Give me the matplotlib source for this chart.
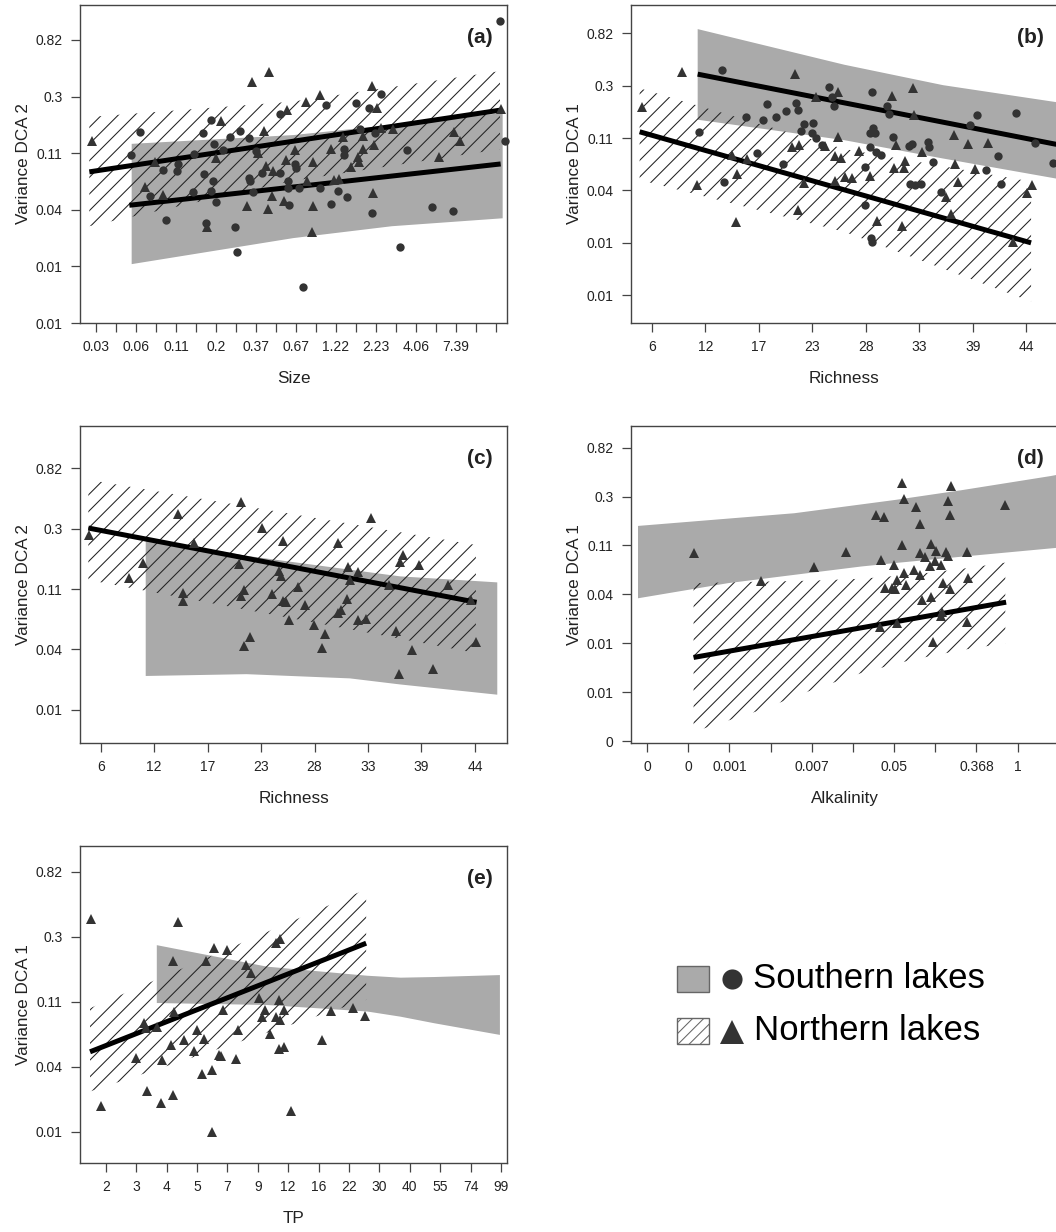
import numpy as np
import matplotlib
matplotlib.use("Agg")
import matplotlib.pyplot as plt
from matplotlib.patches import Rectangle

plt.rcParams['font.family'] = ['Liberation Sans', 'DejaVu Sans']
plt.rcParams['hatch.linewidth'] = 0.75

# ---------------------------------------------------------------
# Data (all values in natural-log units: ln(variance), ln(predictor))
# ---------------------------------------------------------------
# Panel (a): Variance DCA 2 vs ln(Size)
a_south_x = [-2.735, -2.875, -1.68, -1.79, -1.63, -1.245, -1.39, -1.10, -1.50, -1.925,
             -2.175, -2.39, -2.18, -1.775, -1.65, -1.68, -1.94, -2.595, -1.605, -2.35,
             -1.745, -1.31, -1.29, -1.10, -1.09, -0.915, -1.04, -0.64, -0.995, -0.64,
             -0.515, -0.52, -0.50,
             2.665, 0.875, 0.05, 0.505, 0.69, 0.555, 0.315, 0.315, 0.79, 1.265,
             -0.40, -0.41, -0.35, -0.04, 0.23, 0.36, 0.12, 0.74, 1.64, 1.96,
             1.155, -0.30, 2.73]
a_south_y = [-1.83, -2.24, -1.62, -1.84, -2.03, -1.81, -1.92, -1.94, -2.15, -2.22,
             -2.39, -2.49, -2.51, -2.57, -2.70, -2.86, -2.88, -2.96, -3.07, -3.38,
             -3.44, -3.51, -3.94, -2.63, -2.70, -2.55, -2.89, -1.50, -2.17, -2.55,
             -2.70, -2.82, -3.11,
             0.14, -1.16, -1.35, -1.32, -1.41, -1.77, -2.12, -2.23, -1.85, -2.15,
             -2.46, -2.39, -2.82, -2.82, -2.86, -2.97, -3.10, -3.26, -3.15, -3.23,
             -3.86, -4.56, -1.99]
a_north_x = [-3.465, -1.06, -0.805, -1.53, -0.875, -0.54, -2.52, -1.60, -0.965, -2.66,
             -2.395, -1.74, -1.14, -0.825, -0.765, -0.85, -0.74, -0.58, -0.55,
             -0.25, -0.04, 0.745, 0.81, -0.42, -0.145, 0.31, 0.13, 0.60, 0.87,
             1.055, 0.775, 0.61, 0.525, 0.55, 0.43, 1.965, 2.055, 1.74, 2.67,
             -0.235, 0.165, 0.25, 0.755, -0.14, -0.16]
a_north_y = [-1.99, -0.95, -0.76, -1.63, -1.81, -1.43, -2.35, -2.29, -2.20, -2.79,
             -2.93, -3.51, -3.14, -3.18, -2.96, -2.42, -2.51, -3.05, -2.32,
             -1.30, -1.18, -1.01, -1.41, -2.15, -2.36, -1.92, -2.13, -1.89, -1.75,
             -1.78, -2.05, -2.12, -2.26, -2.36, -2.45, -1.82, -1.98, -2.26, -1.42,
             -2.70, -2.68, -2.66, -2.91, -3.14, -3.59]
a_north_fit_x = [-3.50, 2.66]
a_north_fit_y = [-2.53, -1.44]
a_south_fit_x = [-2.90, 2.67]
a_south_fit_y = [-3.12, -2.39]
a_north_band_x = [-3.50, -0.46, 2.66]
a_north_band_hi = [-1.56, -1.29, -0.75]
a_north_band_lo = [-3.49, -2.69, -2.13]
a_south_band_x = [-2.865, -0.44, 1.04, 2.70]
a_south_band_hi = [-2.035, -1.88, -1.70, -1.49]
a_south_band_lo = [-4.16, -3.70, -3.49, -3.35]
a_xticklabels = ['0.03', '', '0.06', '', '0.11', '', '0.2', '', '0.37', '', '0.67', '',
                 '1.22', '', '2.23', '', '4.06', '', '7.39', '', '']

# Panel (b): Variance DCA 1 vs Richness
b_south_x = [13.17, 10.84, 17.83, 15.70, 17.45, 18.76, 19.79, 20.85, 20.99, 21.67,
             22.53, 21.33, 22.43, 22.91, 23.46, 16.80, 19.44, 13.37, 24.21, 24.55,
             24.76,
             28.63, 30.21, 30.38, 39.44, 43.45, 38.75, 45.37, 41.60, 47.25, 28.74,
             28.39, 28.91, 30.79, 32.44, 32.71, 34.40, 34.50, 28.46, 29.08, 29.59,
             27.88, 34.91, 40.33, 32.51, 33.09, 33.67, 35.70, 41.87, 27.88, 28.56,
             28.67]
b_south_y = [-0.906, -2.09, -1.55, -1.80, -1.86, -1.80, -1.69, -1.54, -1.67, -1.93,
             -1.92, -2.06, -2.11, -2.20, -2.33, -2.48, -2.70, -3.04, -1.22, -1.41,
             -1.58,
             -1.33, -1.58, -1.75, -1.76, -1.73, -1.95, -2.30, -2.55, -2.68, -2.00,
             -2.11, -2.11, -2.18, -2.36, -2.32, -2.28, -2.38, -2.38, -2.46, -2.52,
             -2.76, -2.65, -2.81, -3.08, -3.09, -3.08, -3.22, -3.08, -3.48, -4.11,
             -4.19]
b_north_x = [9.05, 4.97, 20.68, 22.91, 25.17, 25.17, 20.44, 21.16, 14.20, 15.77,
             14.74, 10.60, 21.67, 20.99, 14.68, 24.83, 25.44, 24.83, 23.80,
             32.82, 30.73, 32.95, 37.07, 38.54, 40.60, 31.07, 33.81, 27.30, 32.06,
             30.86, 31.89, 37.14, 39.23, 28.39, 25.82, 26.58, 37.48, 36.28, 36.80,
             29.18, 31.75, 45.13, 44.61, 43.14]
b_north_y = [-0.93, -1.60, -0.98, -1.41, -1.33, -2.18, -2.38, -2.33, -2.52, -2.60,
             -2.88, -3.09, -3.06, -3.57, -3.81, -3.01, -2.59, -2.55, -2.36,
             -1.24, -1.39, -1.76, -2.15, -2.31, -2.30, -2.33, -2.47, -2.44, -2.63,
             -2.78, -2.78, -2.70, -2.79, -2.92, -2.94, -2.97, -3.03, -3.32, -3.65,
             -3.78, -3.88, -3.09, -3.25, -4.19]
b_north_fit_x = [4.73, 45.0]
b_north_fit_y = [-2.08, -4.20]
b_south_fit_x = [10.7, 47.6]
b_south_fit_y = [-0.98, -2.32]
b_north_band_x = [4.73, 25.8, 45.0]
b_north_band_hi = [-1.25, -2.41, -3.03]
b_north_band_lo = [-3.00, -3.99, -5.32]
b_south_band_x = [10.7, 25.78, 35.94, 47.8]
b_south_band_hi = [-0.12, -0.80, -1.19, -1.52]
b_south_band_lo = [-1.85, -2.24, -2.59, -2.98]
rich_xticklabels = ['6', '12', '17', '23', '28', '33', '39', '44']

# Panel (c): Variance DCA 2 vs Richness (northern lakes)
c_north_x = [4.83, 8.88, 10.39, 13.95, 14.50, 14.43, 15.60, 20.47, 20.19, 22.59,
             20.78, 20.47, 20.74, 21.39, 23.59, 24.38, 24.55, 24.79, 24.72, 25.06,
             25.40, 26.26, 27.01, 27.98, 29.07, 28.80, 30.38, 31.47, 31.64, 31.30,
             30.44, 30.68, 32.43, 32.50, 33.25, 33.80, 35.69, 36.37, 36.79, 37.06,
             38.70, 36.65, 38.05, 40.21, 41.69, 44.05, 44.60]
c_north_y = [-1.31, -2.01, -1.77, -0.96, -2.27, -2.39, -1.44, -0.76, -1.78, -1.19,
             -2.21, -2.32, -3.15, -2.99, -2.29, -1.90, -1.98, -1.41, -2.39, -2.41,
             -2.72, -2.16, -2.46, -2.80, -2.95, -3.17, -1.43, -1.83, -2.05, -2.36,
             -2.59, -2.54, -1.91, -2.71, -2.70, -1.02, -2.13, -2.90, -1.75, -1.63,
             -1.81, -3.60, -3.21, -3.52, -2.13, -2.38, -3.08]
c_north_fit_x = [4.73, 44.67]
c_north_fit_y = [-1.19, -2.42]
c_north_band_x = [4.73, 44.6]
c_north_band_hi = [-0.39, -1.47]
c_north_band_lo = [-2.05, -3.26]
c_south_band_x = [10.63, 21.0, 31.64, 36.79, 46.8]
c_south_band_hi = [-1.36, -1.65, -1.88, -1.99, -2.09]
c_south_band_lo = [-3.64, -3.61, -3.68, -3.78, -3.95]

# Panel (d): Variance DCA 1 vs ln(Alkalinity) (northern lakes)
d_north_x = [-7.87, -6.24, -4.95, -4.17, -3.45, -3.25, -3.31, -2.81, -2.76, -2.81,
             -3.00, -2.46, -2.36, -1.61, -1.69, -1.65, -0.30, -2.10, -2.36, -2.25,
             -1.98, -1.74, -1.68, -1.23, -2.00, -2.14, -1.86, -2.52, -2.36, -2.75,
             -2.93, -2.72, -3.23, -3.05, -2.99, -1.21, -1.82, -1.65, -2.33, -2.10,
             -1.83, -1.86, -3.35, -2.93, -1.23, -2.06]
d_north_y = [-2.36, -2.93, -2.64, -2.33, -1.58, -1.62, -2.50, -0.93, -1.24, -2.18,
             -2.60, -1.41, -1.77, -0.98, -1.30, -1.58, -1.38, -2.16, -2.36, -2.43,
             -2.31, -2.33, -2.42, -2.34, -2.52, -2.61, -2.60, -2.70, -2.80, -2.77,
             -2.91, -3.01, -3.06, -3.06, -3.10, -2.87, -2.96, -3.09, -3.32, -3.25,
             -3.57, -3.64, -3.87, -3.79, -3.76, -4.18]
d_north_fit_x = [-7.87, -0.28]
d_north_fit_y = [-4.49, -3.36]
d_north_band_x = [-7.87, -6.22, -5.01, -3.80, -2.58, -1.37, -0.30]
d_north_band_hi = [-2.97, -2.94, -2.92, -2.88, -2.80, -2.68, -2.55]
d_north_band_lo = [-6.01, -5.56, -5.16, -4.81, -4.54, -4.34, -4.20]
d_south_band_x = [-9.22, -7.03, -5.42, -3.80, -2.99, -1.37, 0.80, 1.30]
d_south_band_hi = [-1.80, -1.65, -1.54, -1.36, -1.27, -1.07, -0.78, -0.70]
d_south_band_lo = [-3.28, -2.97, -2.80, -2.63, -2.56, -2.43, -2.26, -2.22]
d_xticklabels = ['0', '0', '0.001', '', '0.007', '', '0.05', '', '0.368', '1']

# Panel (e): Variance DCA 1 vs ln(TP) (northern lakes)
e_north_x = [0.552, 0.65, 1.00, 1.08, 1.10, 1.21, 1.11, 1.25, 1.26, 1.36,
             1.34, 1.37, 1.36, 1.41, 1.47, 1.57, 1.60, 1.65, 1.67, 1.69,
             1.75, 1.75, 1.77, 1.82, 1.84, 1.86, 1.90, 1.99, 2.01, 2.08,
             2.13, 2.21, 2.24, 2.27, 2.32, 2.38, 2.42, 2.41, 2.38, 2.42,
             2.46, 2.41, 2.46, 2.53, 2.83, 2.92, 3.14, 3.26]
e_north_y = [-0.93, -3.81, -3.06, -2.52, -2.60, -2.59, -3.57, -3.76, -3.09, -3.64,
             -2.87, -2.36, -1.58, -0.97, -2.79, -2.96, -2.63, -3.31, -2.78, -1.57,
             -3.25, -4.20, -1.38, -3.02, -3.03, -2.33, -1.41, -3.08, -2.64, -1.64,
             -1.76, -2.15, -2.43, -2.32, -2.70, -1.30, -1.24, -2.18, -2.43, -2.48,
             -2.33, -2.92, -2.90, -3.88, -2.79, -2.35, -2.29, -2.42]
e_north_fit_x = [0.545, 3.27]
e_north_fit_y = [-2.97, -1.30]
e_north_band_x = [0.545, 3.27]
e_north_band_hi = [-2.30, -0.47]
e_north_band_lo = [-3.58, -2.17]
e_south_band_x = [1.204, 2.29, 3.28, 3.61, 3.94, 4.59]
e_south_band_hi = [-1.33, -1.66, -1.80, -1.83, -1.82, -1.79]
e_south_band_lo = [-2.22, -2.25, -2.35, -2.43, -2.53, -2.71]
e_xticklabels = ['2', '3', '4', '5', '7', '9', '12', '16', '22', '30', '40', '55', '74', '99']

y_labels6 = ['0.82', '0.3', '0.11', '0.04', '0.01', '0.01']
y_labels5 = ['0.82', '0.3', '0.11', '0.04', '0.01']
y_labels7 = ['0.82', '0.3', '0.11', '0.04', '0.01', '0.01', '0']

legend_labels = ['Southern lakes', 'Northern lakes']

# ---------------------------------------------------------------
W, H = 1056, 1232
fig = plt.figure(figsize=(W / 100, H / 100), dpi=100)

GRAY = '#aaaaaa'
PT = '#333333'
AXC = '#444444'


def add_ax(l, t, r, b):
    return fig.add_axes([l / W, 1 - b / H, (r - l) / W, (b - t) / H])


def style(ax, xlim, ylim, xticks, xlabels, ylabels, xtitle, ytitle, tag):
    ax.set_xlim(*xlim)
    ax.set_ylim(*ylim)
    ax.set_xticks(xticks)
    ax.set_xticklabels(xlabels)
    yt = -0.2 - np.arange(len(ylabels))
    ax.set_yticks(yt)
    ax.set_yticklabels(ylabels)
    ax.tick_params(direction='out', length=6.5, width=0.9, color=AXC,
                   labelsize=10, pad=6, labelcolor='#222222')
    for s in ax.spines.values():
        s.set_color(AXC)
        s.set_linewidth(1.0)
    ax.set_xlabel(xtitle, fontsize=12.3, labelpad=12, color='#222222')
    ax.set_ylabel(ytitle, fontsize=12.3, labelpad=3.5, color='#222222')
    ax.text(0.967, 0.899, tag, transform=ax.transAxes, ha='right', va='center',
            fontsize=15, fontweight='bold', color='#222222')


def gray_band(ax, x, lo, hi):
    ax.fill_between(x, lo, hi, facecolor=GRAY, edgecolor='none', linewidth=0, zorder=1)


def hatch_band(ax, x, lo, hi):
    ax.fill_between(x, lo, hi, facecolor='none', edgecolor='#222222', hatch='//',
                    linewidth=0, zorder=2)


def fit(ax, x, y):
    ax.plot(x, y, color='black', lw=3.6, solid_capstyle='butt', zorder=3)


def pts(ax, x, y, marker):
    ms = 6.0 if marker == 'o' else 7.0
    ax.plot(x, y, linestyle='none', marker=marker, ms=ms, color=PT,
            markeredgewidth=0, zorder=4, clip_on=False)


# (a)
ax = add_ax(80, 5, 507, 323)
gray_band(ax, a_south_band_x, a_south_band_lo, a_south_band_hi)
hatch_band(ax, a_north_band_x, a_north_band_lo, a_north_band_hi)
fit(ax, a_north_fit_x, a_north_fit_y)
fit(ax, a_south_fit_x, a_south_fit_y)
pts(ax, a_south_x, a_south_y, 'o')
pts(ax, a_north_x, a_north_y, '^')
style(ax, (-3.64, 2.765), (-5.19, 0.418), -3.4 + 0.3 * np.arange(21), a_xticklabels,
      y_labels6, 'Size', 'Variance DCA 2', '(a)')

# (b)
ax = add_ax(631, 5, 1058, 323)
gray_band(ax, b_south_band_x, b_south_band_lo, b_south_band_hi)
hatch_band(ax, b_north_band_x, b_north_band_lo, b_north_band_hi)
fit(ax, b_north_fit_x, b_north_fit_y)
fit(ax, b_south_fit_x, b_south_fit_y)
pts(ax, b_south_x, b_south_y, 'o')
pts(ax, b_north_x, b_north_y, '^')
style(ax, (3.84, 47.77), (-5.73, 0.34), 6 + 5.5 * np.arange(8), rich_xticklabels,
      y_labels6, 'Richness', 'Variance DCA 1', '(b)')

# (c)
ax = add_ax(80, 426, 507, 743)
gray_band(ax, c_south_band_x, c_south_band_lo, c_south_band_hi)
hatch_band(ax, c_north_band_x, c_north_band_lo, c_north_band_hi)
fit(ax, c_north_fit_x, c_north_fit_y)
pts(ax, c_north_x, c_north_y, '^')
style(ax, (3.87, 47.8), (-4.75, 0.50), 6 + 5.5 * np.arange(8), rich_xticklabels,
      y_labels5, 'Richness', 'Variance DCA 2', '(c)')

# (d)
ax = add_ax(631, 426, 1058, 743)
gray_band(ax, d_south_band_x, d_south_band_lo, d_south_band_hi)
hatch_band(ax, d_north_band_x, d_north_band_lo, d_north_band_hi)
fit(ax, d_north_fit_x, d_north_fit_y)
pts(ax, d_north_x, d_north_y, '^')
style(ax, (-9.39, 0.98), (-6.24, 0.244), -9 + np.arange(10), d_xticklabels,
      y_labels7, 'Alkalinity', 'Variance DCA 1', '(d)')

# (e)
ax = add_ax(80, 846, 507, 1163)
gray_band(ax, e_south_band_x, e_south_band_lo, e_south_band_hi)
hatch_band(ax, e_north_band_x, e_north_band_lo, e_north_band_hi)
fit(ax, e_north_fit_x, e_north_fit_y)
pts(ax, e_north_x, e_north_y, '^')
style(ax, (0.446, 4.66), (-4.68, 0.195), 0.7 + 0.3 * np.arange(14), e_xticklabels,
      y_labels5, 'TP', 'Variance DCA 1', '(e)')

# Legend (drawn in figure pixel space)
lg = fig.add_axes([0, 0, 1, 1])
lg.set_xlim(0, W)
lg.set_ylim(H, 0)
lg.axis('off')
lg.add_patch(Rectangle((677, 966), 32, 26, facecolor=GRAY, edgecolor='#666666', lw=1.0))
lg.add_patch(Rectangle((677, 1018), 32, 26, facecolor='white', edgecolor='#666666',
                       hatch='///', lw=1.0))
lg.plot([732], [979], marker='o', ms=14.5, color=PT, markeredgewidth=0, linestyle='none')
lg.plot([732], [1032], marker='^', ms=17, color=PT, markeredgewidth=0, linestyle='none')
lg.text(753, 979, legend_labels[0], fontsize=25, va='center', ha='left', color='black')
lg.text(754, 1031, legend_labels[1], fontsize=25, va='center', ha='left', color='black')

fig.savefig('out.png', dpi=100)
